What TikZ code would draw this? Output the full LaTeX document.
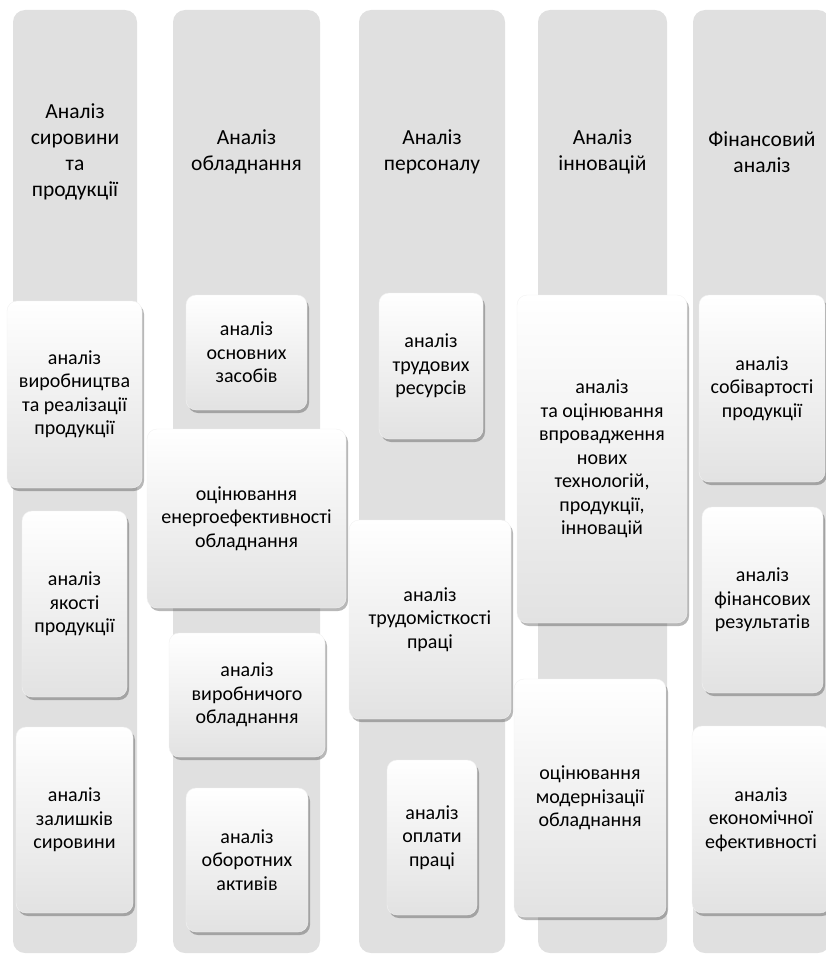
\documentclass[tikz,border=0pt]{standalone}
\usepackage{fontspec}
\setmainfont{Carlito}
\usetikzlibrary{shadows}
\definecolor{colgray}{RGB}{224,224,224}
\definecolor{boxbottom}{RGB}{226,226,226}

\begin{document}
\begin{tikzpicture}[x=1pt, y=-1pt,
  column/.style={fill=colgray, rounded corners=12pt, inner sep=0pt},
  head/.style={align=center, font=\fontsize{21.5}{26}\selectfont},
  box/.style={rounded corners=10pt, top color=white, middle color=white, bottom color=boxbottom,
              draw=black!5, align=center, inner sep=0pt,
              font=\fontsize{20}{23.5}\selectfont,
              drop shadow={shadow xshift=2pt, shadow yshift=-3pt, opacity=0.35, fill=black!80}}]
\useasboundingbox (0,0) rectangle (826,955);
\clip (0,0) rectangle (826,955);
% columns
\node[column, minimum width=124, minimum height=943] (colraw) at (75,481.5) {};
\node[column, minimum width=147, minimum height=943] (colequip) at (246.5,481.5) {};
\node[column, minimum width=146, minimum height=943] (colstaff) at (432,481.5) {};
\node[column, minimum width=129, minimum height=943] (colinnov) at (602.5,481.5) {};
\node[column, minimum width=137, minimum height=943] (colfin) at (761.5,481.5) {};
% headers
\node[head] (hraw) at (75,152) {Аналіз\\сировини\\та\\продукції};
\node[head] (hequip) at (246.5,152) {Аналіз\\обладнання};
\node[head] (hstaff) at (432,152) {Аналіз\\персоналу};
\node[head] (hinnov) at (602.5,152) {Аналіз\\інновацій};
\node[head] (hfin) at (762,152) {Фінансовий\\аналіз};
% raw materials and products
\node[box, minimum width=135, minimum height=187] (raw1) at (74.5,394.5) {аналіз\\виробництва\\та реалізації\\продукції};
\node[box, minimum width=105, minimum height=186] (raw2) at (74.5,604) {аналіз\\якості\\продукції};
\node[box, minimum width=117, minimum height=186] (raw3) at (74.5,820) {аналіз\\залишків\\сировини};
% equipment
\node[box, minimum width=121, minimum height=115] (equip1) at (246.5,352.5) {аналіз\\основних\\засобів};
\node[box, minimum width=156, minimum height=124] (equip3) at (247,695) {аналіз\\виробничого\\обладнання};
\node[box, minimum width=122, minimum height=144] (equip4) at (247,860) {аналіз\\оборотних\\активів};
\node[box, minimum width=199, minimum height=179] (equip2) at (246.5,518.5) {оцінювання\\енергоефективності\\обладнання};
% staff
\node[box, minimum width=104, minimum height=146] (staff1) at (431,366) {аналіз\\трудових\\ресурсів};
\node[box, minimum width=162, minimum height=199] (staff2) at (430,619.5) {аналіз\\трудомісткості\\праці};
\node[box, minimum width=90, minimum height=155] (staff3) at (432,837.5) {аналіз\\оплати\\праці};
% innovations
\node[box, minimum width=170, minimum height=328] (innov1) at (602,459) {аналіз\\та оцінювання\\впровадження\\нових\\технологій,\\продукції,\\інновацій};
\node[box, minimum width=152, minimum height=238] (innov2) at (590,798) {оцінювання\\модернізації\\обладнання};
% finance
\node[box, minimum width=126, minimum height=187] (fin1) at (762,388.5) {аналіз\\собівартості\\продукції};
\node[box, minimum width=121, minimum height=186] (fin2) at (762.5,600) {аналіз\\фінансових\\результатів};
\node[box, minimum width=138, minimum height=187] (fin3) at (761,819.5) {аналіз\\економічної\\ефективності};
\end{tikzpicture}
\end{document}
